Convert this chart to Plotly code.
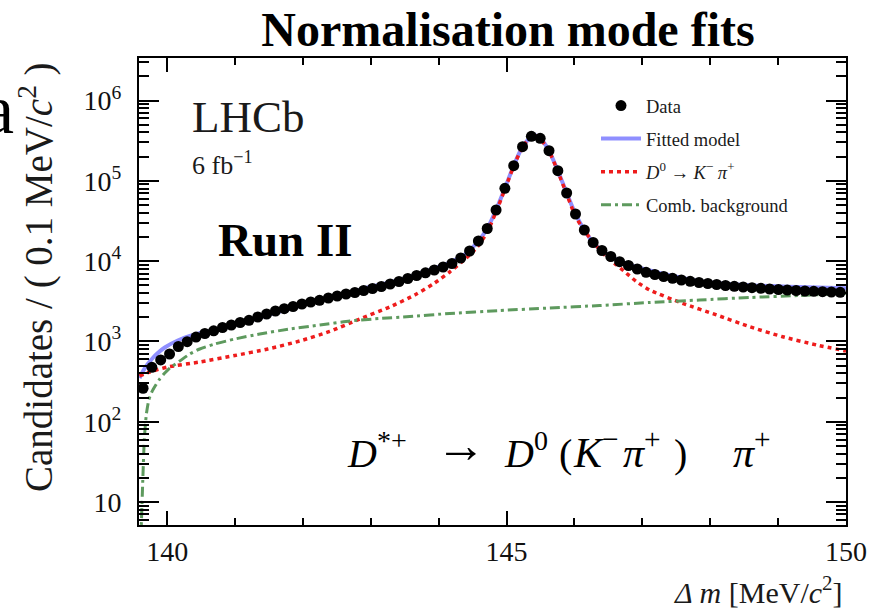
import plotly.graph_objects as go

# ---------------- data ----------------
bin_centres = [139.645, 139.775, 139.905, 140.035, 140.165, 140.295, 140.425, 140.555, 140.685, 140.815,
               140.945, 141.075, 141.205, 141.335, 141.465, 141.595, 141.725, 141.855, 141.985, 142.115,
               142.245, 142.375, 142.505, 142.635, 142.765, 142.895, 143.025, 143.155, 143.285, 143.415,
               143.545, 143.675, 143.805, 143.935, 144.065, 144.195, 144.325, 144.455, 144.585, 144.715,
               144.845, 144.975, 145.105, 145.235, 145.365, 145.495, 145.625, 145.755, 145.885, 146.015,
               146.145, 146.275, 146.405, 146.535, 146.665, 146.795, 146.925, 147.055, 147.185, 147.315,
               147.445, 147.575, 147.705, 147.835, 147.965, 148.095, 148.225, 148.355, 148.485, 148.615,
               148.745, 148.875, 149.005, 149.135, 149.265, 149.395, 149.525, 149.655, 149.785, 149.915]

data_counts = [261, 476, 587, 697, 864, 992, 1134, 1254, 1355, 1490,
               1601, 1719, 1831, 2013, 2194, 2391, 2554, 2720, 2923, 3095,
               3250, 3471, 3677, 3894, 4064, 4304, 4558, 4828, 5185, 5572,
               6072, 6618, 7151, 7748, 8445, 9336, 10929, 13360, 17800, 25470,
               43290, 80650, 154200, 265900, 358400, 338200, 237100, 133600, 70500, 38600,
               24400, 17050, 13550, 11410, 9830, 8815, 7973, 7254, 6810, 6430,
               6107, 5815, 5602, 5414, 5260, 5112, 4967, 4855, 4759, 4663,
               4585, 4494, 4429, 4366, 4304, 4242, 4206, 4158, 4122, 4088]

model_x = [139.593, 139.645, 139.714, 139.788, 139.862, 139.965, 140.156, 140.333, 140.554, 140.848,
           141.216, 141.658, 142.100, 142.542, 142.984, 143.426, 143.867, 144.162, 144.383, 144.585,
           144.715, 144.845, 144.975, 145.105, 145.235, 145.365, 145.430, 145.495, 145.625, 145.755,
           145.885, 146.015, 146.145, 146.275, 146.405, 146.535, 146.664, 147.107, 147.843, 148.580,
           149.315, 150.000]
model_y = [350, 428, 523, 621, 717, 840, 1026, 1167, 1310, 1476,
           1821, 2357, 3008, 3729, 4759, 5815, 7748, 9609, 12085, 17800,
           25470, 43290, 80650, 154200, 265900, 358400, 368000, 338200, 237100, 133600,
           70500, 38600, 24400, 17050, 13550, 11410, 10030, 7636, 5600, 5000,
           4750, 4600]

signal_x = [139.593, 139.744, 140.009, 140.480, 140.996, 141.482, 141.953, 142.395, 142.837, 143.279,
            143.647, 143.941, 144.162, 144.339, 144.486, 144.604, 144.715, 144.845, 144.975, 145.105,
            145.235, 145.365, 145.430, 145.495, 145.625, 145.755, 145.885, 146.015, 146.148, 146.325,
            146.472, 146.620, 146.767, 146.914, 147.106, 147.592, 148.094, 148.580, 149.066, 149.567,
            150.000]
signal_y = [371, 416, 480, 554, 667, 804, 1012, 1329, 1901, 2682,
            3782, 5338, 7317, 9745, 12617, 16330, 23000, 40900, 78200, 151700,
            263400, 356000, 365500, 335700, 234600, 131100, 68000, 36100, 23700, 15420,
            11340, 8943, 7050, 5540, 4366, 2982, 2132, 1525, 1144, 902,
            760]

bkg_x = [139.601, 139.619, 139.641, 139.663, 139.692, 139.729, 139.773, 139.832, 139.891, 139.965,
         140.038, 140.186, 140.333, 140.480, 140.701, 140.996, 141.364, 141.806, 142.248, 142.690,
         143.131, 143.573, 144.162, 144.898, 145.635, 146.371, 147.107, 147.843, 148.580, 149.316,
         150.000]
bkg_y = [1.9, 5.2, 18.8, 59.2, 121, 186, 234, 286, 340, 404,
         466, 570, 697, 804, 928, 1071, 1237, 1427, 1601, 1795,
         1929, 2042, 2226, 2425, 2606, 2800, 3050, 3278, 3522, 3729,
         3972]

y_tick_vals = [10, 100, 1000, 10000, 100000, 1000000]
y_tick_text = ["10", "10<sup>2</sup>", "10<sup>3</sup>", "10<sup>4</sup>", "10<sup>5</sup>", "10<sup>6</sup>"]

SERIF = "Liberation Serif"

fig = go.Figure()

fig.add_trace(go.Scatter(
    x=model_x, y=model_y, mode="lines", name="Fitted model",
    line=dict(color="#8f8fff", width=4, shape="spline", smoothing=0.6),
    legendgroup="m", legendrank=2))
fig.add_trace(go.Scatter(
    x=signal_x, y=signal_y, mode="lines",
    name="<i>D</i><sup>0</sup> → <i>K</i><sup>−</sup> <i>π</i><sup>+</sup>",
    line=dict(color="#ee1c1c", width=3.5, dash="4px,4px", shape="spline", smoothing=0.6),
    legendgroup="s", legendrank=3))
fig.add_trace(go.Scatter(
    x=bkg_x, y=bkg_y, mode="lines", name="Comb. background",
    line=dict(color="#5e9a5e", width=3, dash="10px,4px,3px,4px", shape="spline", smoothing=0.6),
    legendgroup="b", legendrank=4))
fig.add_trace(go.Scatter(
    x=bin_centres, y=data_counts, mode="markers", name="Data",
    marker=dict(color="black", size=11),
    error_y=dict(type="sqrt", color="black", thickness=1.5, width=0),
    legendgroup="d", legendrank=1))

fig.update_xaxes(
    range=[139.585, 150.0], tickmode="linear", tick0=140, dtick=5,
    ticks="inside", ticklen=14, tickwidth=1.5, tickcolor="black",
    minor=dict(dtick=1, ticks="inside", ticklen=7, tickwidth=1.5, tickcolor="black", showgrid=False),
    showline=True, linecolor="black", linewidth=2, mirror="allticks",
    showgrid=False, zeroline=False, automargin=False,
    tickfont=dict(family=SERIF, size=28, color="#111111"), ticklabelstandoff=0)

fig.update_yaxes(
    type="log", range=[0.7136, 6.5293],
    tickmode="array", tickvals=y_tick_vals, ticktext=y_tick_text,
    ticks="inside", ticklen=20, tickwidth=1.5, tickcolor="black",
    minor=dict(dtick="D1", ticks="inside", ticklen=10, tickwidth=1.5, tickcolor="black", showgrid=False),
    showline=True, linecolor="black", linewidth=2, mirror="allticks",
    showgrid=False, zeroline=False, automargin=False,
    tickfont=dict(family=SERIF, size=28, color="#111111"), ticklabelstandoff=10)


def px_x(p):
    return (p - 139.0) / 707.0


def px_y(p):
    return 1.0 - (p - 58.0) / 467.0


annotations = [
    dict(text="LHCb", x=px_x(190), y=px_y(117), xanchor="left", yanchor="middle",
         font=dict(family=SERIF, size=45, color="#1a1a1a")),
    dict(text="6 fb<sup>−1</sup>", x=px_x(190), y=px_y(164), xanchor="left", yanchor="middle",
         font=dict(family=SERIF, size=26, color="#1a1a1a")),
    dict(text="<b>Run II</b>", x=px_x(216), y=px_y(240), xanchor="left", yanchor="middle",
         font=dict(family=SERIF, size=47, color="black")),
    dict(text="Candidates / ( 0.1 MeV/<i>c</i><sup>2</sup> )", textangle=-90,
         x=px_x(36), y=px_y(277), xanchor="center", yanchor="middle",
         font=dict(family=SERIF, size=39, color="#1a1a1a")),
    dict(text="<i>Δ m</i> [MeV/<i>c</i><sup>2</sup>]", x=px_x(845), y=px_y(590),
         xanchor="right", yanchor="middle",
         font=dict(family=SERIF, size=30, color="#1a1a1a")),
    dict(text="a", x=px_x(16), y=px_y(110), xanchor="right", yanchor="middle",
         font=dict(family=SERIF, size=70, color="black")),
]

# decay formula, written in pieces so that its spacing follows the original
formula_pieces = [
    ("<i>D</i><sup>*+</sup>", 345, 40),
    ("<i>D</i><sup>0</sup>", 502, 40),
    ("(", 557, 40),
    ("<i>K</i><sup>−</sup>", 571, 42),
    ("<i>π</i><sup>+</sup>", 621, 42),
    (")", 672, 40),
    ("<i>π</i><sup>+</sup>", 731, 42),
]
for txt, left, size in formula_pieces:
    annotations.append(dict(text=txt, x=px_x(left), y=px_y(478), xanchor="left", yanchor="bottom",
                            font=dict(family=SERIF, size=size, color="black")))
annotations.append(dict(text="→", x=px_x(434), y=px_y(445), xanchor="left", yanchor="middle",
                        font=dict(family=SERIF, size=50, color="black")))

for a in annotations:
    a.update(xref="paper", yref="paper", showarrow=False)

fig.update_layout(
    width=872, height=610,
    margin=dict(l=139, r=26, t=58, b=85),
    paper_bgcolor="white", plot_bgcolor="white",
    font=dict(family=SERIF, color="black"),
    title=dict(text="<b>Normalisation mode fits</b>", x=px_x(508), xref="paper", xanchor="center",
               y=1 - 29 / 610, yref="container", yanchor="middle",
               font=dict(family=SERIF, size=48, color="black")),
    showlegend=True,
    legend=dict(x=px_x(596), y=px_y(87), xanchor="left", yanchor="top",
                bgcolor="rgba(0,0,0,0)", font=dict(family=SERIF, size=18.5, color="#1a1a1a"),
                tracegroupgap=6, itemwidth=40),
    annotations=annotations,
)

fig.write_html("out.html")
